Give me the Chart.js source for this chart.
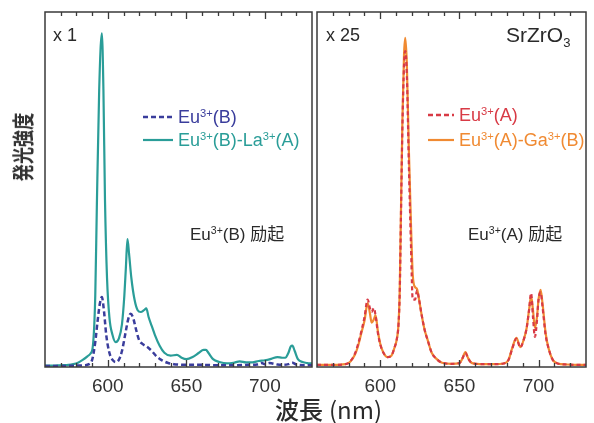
<!DOCTYPE html>
<html lang="ja">
<head>
<meta charset="UTF-8">
<title>SrZrO3 発光スペクトル</title>
<style>
  body { margin: 0; background: #fff; }
  #wrap { position: relative; width: 594px; height: 423px; overflow: hidden;
          font-family: "Liberation Sans", Arial, sans-serif; color: #2a2a2a; }
  canvas { position: absolute; top: 0; }
  .t { position: absolute; white-space: nowrap; }
  .t sup { font-size: 62%; vertical-align: 0; position: relative; top: -0.55em; }
  .t sub { font-size: 62%; vertical-align: 0; position: relative; top: 0.35em; }
  .leg { position: absolute; font-size: 18px; line-height: 18px; white-space: nowrap; }
  .jp { font-family: "Noto Sans CJK JP", sans-serif; }
</style>
</head>
<body>
<div id="wrap">
  <canvas id="left" width="320" height="423" style="left:0"></canvas>
  <canvas id="right" width="294" height="423" style="left:300px"></canvas>

  <!-- panel labels -->
  <div class="t" style="left:53px;top:26px;font-size:18px;line-height:18px">x 1</div>
  <div class="t" style="left:326px;top:26px;font-size:18px;line-height:18px">x 25</div>
  <div class="t" style="left:506px;top:24px;font-size:21px;line-height:21px">SrZrO<sub>3</sub></div>

  <!-- legends -->
  <svg class="leg" style="left:143px;top:108px" width="32" height="40">
    <line x1="0" y1="9" x2="30" y2="9" stroke="#3a3d9c" stroke-width="2.5" stroke-dasharray="5,3"/>
    <line x1="0" y1="32" x2="30" y2="32" stroke="#2a9d98" stroke-width="2.2"/>
  </svg>
  <div class="t leg" style="left:178px;top:108px;color:#3a3d9c">Eu<sup>3+</sup>(B)</div>
  <div class="t leg" style="left:178px;top:131px;color:#2a9d98">Eu<sup>3+</sup>(B)-La<sup>3+</sup>(A)</div>

  <svg class="leg" style="left:428px;top:106px" width="32" height="42">
    <line x1="0" y1="9" x2="26" y2="9" stroke="#d83a45" stroke-width="2.5" stroke-dasharray="5,3"/>
    <line x1="0" y1="34" x2="26" y2="34" stroke="#f08a32" stroke-width="2.2"/>
  </svg>
  <div class="t leg" style="left:459px;top:106px;color:#d83a45">Eu<sup>3+</sup>(A)</div>
  <div class="t leg" style="left:459px;top:131px;color:#f08a32">Eu<sup>3+</sup>(A)-Ga<sup>3+</sup>(B)</div>

  <!-- excitation notes -->
  <div class="t" style="left:190px;top:224px;font-size:17px;line-height:18px">Eu<sup>3+</sup>(B) <span class="jp">励起</span></div>
  <div class="t" style="left:468px;top:224px;font-size:17px;line-height:18px">Eu<sup>3+</sup>(A) <span class="jp">励起</span></div>

  <!-- axis titles -->
  <div class="t jp" style="left:-24px;top:135px;width:90px;text-align:center;font-size:22px;line-height:24px;font-weight:bold;color:#333;transform:rotate(-90deg) scaleX(0.78)">発光強度</div>
  <div class="t jp" style="left:275px;top:394px;font-size:24px;line-height:30px;font-weight:500;color:#2a2a2a">波長<span style="margin-left:6px;font-weight:normal">(nm)</span></div>
</div>

<script src="https://cdn.jsdelivr.net/npm/chart.js"></script>
<script>
// wavelength range and labelled ticks (nm)
const xMin = 560;
const xMax = 730;
const tickLabels = [600, 650, 700];

// left panel: Eu3+(B) excitation, x1
const wlB = [560, 565, 570, 575, 578, 581, 584, 587, 589, 590.5, 592, 593, 594.5, 596.2, 597.2, 598.2, 599.5, 601, 603,
  605, 607, 609, 610.5, 611.5, 612.5, 613.5, 615, 617, 619, 621, 623, 624.5, 626, 628, 630, 633, 636, 640, 644, 647,
  650, 654, 658, 661, 662.5, 664, 667, 671, 676, 680, 684, 688, 692, 696, 700, 704, 708, 711, 713, 715, 716.5, 717.5,
  719, 721, 724, 727, 730];
const euBLa = [0.4, 0.4, 0.5, 0.6, 0.8, 1.2, 2, 3, 3.8, 6, 20, 45, 78, 94, 78, 47, 25, 14, 9,
  7, 8, 12, 20, 28, 36, 32, 25, 19, 16, 15.5, 16, 16.5, 14, 11.5, 9, 6, 4, 3.2, 3.4, 2.6,
  2.2, 2.8, 4, 4.8, 4.8, 4, 2.2, 1.4, 1, 1.2, 1.6, 1.3, 1.3, 1.7, 1.9, 2.3, 2.8, 2.6, 2.6, 4, 5.8, 6,
  4.5, 2.2, 1.4, 1.1, 1];
const wlB2 = [560, 570, 580, 585, 588, 590, 592, 593.5, 595, 596.2, 597.5, 599, 601, 603, 605, 607, 609, 611, 613,
  614.5, 616, 618, 620, 622, 625, 628, 631, 634, 638, 642, 650, 660, 670, 680, 690, 695, 698, 700, 703, 708, 712,
  715, 717.5, 720, 725, 730];
const euB = [0.3, 0.3, 0.4, 0.5, 0.8, 2, 7, 13, 18, 19.7, 16, 9, 4, 2, 1.4, 2, 4.5, 9, 13.5,
  15, 14, 10.5, 7.5, 6.5, 5.7, 4.5, 3, 2, 1.2, 0.8, 0.6, 0.6, 0.5, 0.5, 0.6, 0.7, 1.1, 0.8, 1.1, 0.7, 0.6,
  0.8, 1.2, 0.7, 0.5, 0.5];

// right panel: Eu3+(A) excitation, x25
const wlA = [560, 570, 578, 581, 584, 586, 588, 590, 592, 593.5, 594.5, 596, 597, 598.5, 600, 602, 604.5, 607, 609,
  610.5, 611.5, 612.3, 613, 614, 615, 615.8, 616.8, 618, 619.4, 620.5, 622, 623.2, 624.5, 626, 628, 630, 632.5, 635,
  639, 645, 650, 652, 653.8, 655.5, 658, 665, 672, 678, 681, 683.5, 686, 688.5, 690.5, 692.5, 694, 695.3, 696.5,
  697.7, 699, 700, 701.3, 702.5, 704.5, 706.5, 709, 712, 718, 724, 730];
const euAGa = [0.6, 0.6, 0.8, 1.5, 3.5, 6, 9.5, 13, 18, 15, 12.5, 13.5, 14.6, 10, 6.5, 4, 2.8, 3.2, 5.5,
  8, 12, 22, 42, 70, 88, 92.7, 85, 62, 40, 26, 22.5, 22, 19, 15, 10.5, 7.5, 4, 2.5,
  1.2, 0.9, 1.1, 2.5, 4.2, 2.5, 1.1, 0.8, 0.8, 1, 2, 5.5, 8.2, 5.6, 7.5, 11, 16, 20, 16,
  11, 14, 19, 21.7, 18, 9.5, 5, 2, 1, 0.7, 0.6, 0.6];
const euA = [0.6, 0.6, 0.8, 1.6, 3.8, 6.5, 10, 14, 19, 16.5, 15.5, 16.6, 14.5, 9.5, 6.3, 4, 2.8, 3.2, 5.5,
  8, 12, 21, 41, 68, 85, 89, 82, 58, 34, 19, 19, 21.5, 19, 15, 10.5, 7.5, 4, 2.5,
  1.2, 0.9, 1.1, 2.5, 4, 2.4, 1.1, 0.8, 0.8, 1, 2, 5.3, 8, 5.5, 7.5, 11, 16, 20.8, 14,
  8.5, 13, 19, 21, 17, 9, 5, 2, 1, 0.7, 0.6, 0.6];

function pts(xs, ys) {
  return xs.map((x, i) => ({ x: x, y: ys[i] }));
}

// frame + inward ticks on top and bottom
const frame = {
  id: 'frame',
  afterDraw(chart) {
    const { ctx, chartArea: a } = chart;
    const sx = chart.scales.x;
    ctx.save();
    ctx.strokeStyle = '#3a3a3a';
    ctx.lineWidth = 1.5;
    ctx.strokeRect(a.left, a.top, a.right - a.left, a.bottom - a.top);
    ctx.lineWidth = 1.3;
    ctx.beginPath();
    for (let v = xMin + 10; v < xMax; v += 10) {
      const px = Math.round(sx.getPixelForValue(v)) + 0.5;
      const len = tickLabels.includes(v) ? 7 : 4;
      ctx.moveTo(px, a.bottom);
      ctx.lineTo(px, a.bottom - len);
      ctx.moveTo(px, a.top);
      ctx.lineTo(px, a.top + len);
    }
    ctx.stroke();
    ctx.restore();
  }
};

function makeChart(id, datasets, padLeft, padRight) {
  return new Chart(document.getElementById(id), {
    type: 'line',
    data: { datasets: datasets },
    options: {
      responsive: false,
      animation: false,
      layout: { padding: { left: padLeft, right: padRight, top: 12, bottom: 0 } },
      plugins: { legend: { display: false }, tooltip: { enabled: false } },
      elements: {
        point: { radius: 0 },
        line: { cubicInterpolationMode: 'monotone' }
      },
      scales: {
        x: {
          type: 'linear',
          min: xMin,
          max: xMax,
          afterFit: (s) => { s.height = 56; },
          grid: { display: false, drawTicks: false },
          border: { display: false },
          ticks: {
            stepSize: 10,
            autoSkip: false,
            maxRotation: 0,
            padding: 8,
            color: '#333',
            font: { size: 19, family: '"Liberation Sans", Arial, sans-serif' },
            callback: (v) => tickLabels.includes(v) ? String(v) : ''
          }
        },
        y: { display: false, min: 0, max: 100 }
      }
    },
    plugins: [frame]
  });
}

makeChart('left', [
  { label: 'Eu3+(B)', data: pts(wlB2, euB), borderColor: '#3a3d9c', borderWidth: 2.5, borderDash: [5, 3], order: 0 },
  { label: 'Eu3+(B)-La3+(A)', data: pts(wlB, euBLa), borderColor: '#2a9d98', borderWidth: 2.2, order: 1 }
], 45, 3);

makeChart('right', [
  { label: 'Eu3+(A)', data: pts(wlA, euA), borderColor: '#d83a45', borderWidth: 2.2, borderDash: [4, 3], order: 0 },
  { label: 'Eu3+(A)-Ga3+(B)', data: pts(wlA, euAGa), borderColor: '#f08a32', borderWidth: 2.2, order: 1 }
], 17, 6);
</script>
</body>
</html>
